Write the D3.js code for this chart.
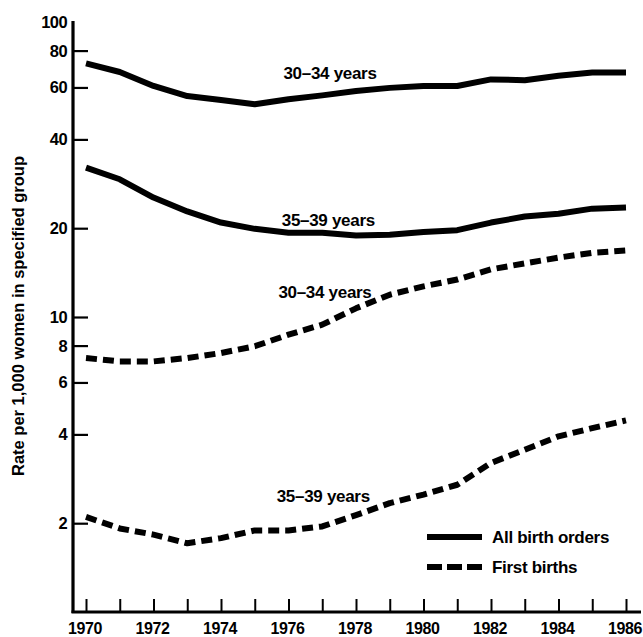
<!DOCTYPE html>
<html>
<head>
<meta charset="utf-8">
<script src="https://cdn.jsdelivr.net/npm/d3@7"></script>
<style>
  body { margin: 0; background: #fff; }
  svg text { font-family: "Liberation Sans", Arial, sans-serif; font-weight: bold; fill: #000; }
</style>
</head>
<body>
<div id="chart"></div>
<script>
// years on the x axis
const years = d3.range(1970, 1987);
const yearLabels = [1970, 1972, 1974, 1976, 1978, 1980, 1982, 1984, 1986];
const rateTicks = [2, 4, 6, 8, 10, 20, 40, 60, 80, 100];

// rates per 1,000 women
const all3034 = [72.4, 67.7, 60.7, 56.1, 54.4, 52.6, 54.7, 56.4, 58.4, 59.8, 60.7, 60.7, 63.9, 63.5, 65.7, 67.4, 67.4];
const all3539 = [32.1, 29.3, 25.4, 22.8, 20.9, 19.9, 19.3, 19.3, 18.9, 19.0, 19.4, 19.7, 20.9, 21.9, 22.4, 23.3, 23.5];
const first3034 = [7.26, 7.07, 7.07, 7.26, 7.55, 7.96, 8.71, 9.42, 10.7, 11.9, 12.7, 13.4, 14.5, 15.2, 15.9, 16.5, 16.8];
const first3539 = [2.10, 1.92, 1.83, 1.71, 1.78, 1.89, 1.89, 1.95, 2.13, 2.34, 2.50, 2.70, 3.20, 3.55, 3.94, 4.20, 4.46];

const seriesNames = ["30\u201334 years", "35\u201339 years", "30\u201334 years", "35\u201339 years"];
const legendNames = ["All birth orders", "First births"];

document.addEventListener("DOMContentLoaded", function () {
    const width = 643, height = 637;
    const svg = d3.select("#chart").append("svg")
        .attr("width", width)
        .attr("height", height);

    const x = d3.scaleLinear().domain([1970, 1986]).range([86, 626]);
    const y = d3.scaleLog().domain([1, 100]).range([612, 22]);

    // y ticks point inward, no tick at 100
    const yAxis = svg.append("g").attr("transform", "translate(73,0)")
        .call(d3.axisRight(y).tickValues(rateTicks.filter(d => d < 100)).tickSize(15).tickFormat(""));
    yAxis.select(".domain").remove();
    yAxis.selectAll(".tick line").attr("stroke", "#000").attr("stroke-width", 2.2);

    svg.append("line")
        .attr("x1", 73).attr("x2", 73)
        .attr("y1", y(100) - 1).attr("y2", 613)
        .attr("stroke", "#000").attr("stroke-width", 3.2);

    svg.append("line")
        .attr("x1", 71.5).attr("x2", 641)
        .attr("y1", 612).attr("y2", 612)
        .attr("stroke", "#000").attr("stroke-width", 3.2);

    const xAxis = svg.append("g").attr("transform", "translate(0,612)")
        .call(d3.axisTop(x).tickValues(years).tickSize(13).tickFormat(""));
    xAxis.select(".domain").remove();
    xAxis.selectAll(".tick line").attr("stroke", "#000").attr("stroke-width", 2);

    // tick labels
    svg.selectAll(".ylab").data(rateTicks).join("text")
        .attr("class", "ylab")
        .attr("x", 67)
        .attr("y", d => y(d))
        .attr("dy", "0.36em")
        .attr("text-anchor", "end")
        .attr("font-size", 16.5)
        .attr("letter-spacing", -0.6)
        .text(d => d);

    svg.selectAll(".xlab").data(yearLabels).join("text")
        .attr("class", "xlab")
        .attr("x", d => x(d) - 1)
        .attr("y", 634)
        .attr("text-anchor", "middle")
        .attr("font-size", 16)
        .attr("letter-spacing", -0.4)
        .text(d => d);

    svg.append("text")
        .attr("transform", "translate(24,316) rotate(-90)")
        .attr("text-anchor", "middle")
        .attr("font-size", 16.5)
        .text("Rate per 1,000 women in specified group");

    // lines (plain polylines, like the drawn original)
    const line = d3.line()
        .x((d, i) => x(years[i]))
        .y(d => y(d));

    const series = [
        { values: all3034, dash: null },
        { values: all3539, dash: null },
        { values: first3034, dash: "11,6" },
        { values: first3539, dash: "11,6" }
    ];

    svg.selectAll(".series").data(series).join("path")
        .attr("class", "series")
        .attr("d", d => line(d.values))
        .attr("fill", "none")
        .attr("stroke", "#000")
        .attr("stroke-width", 6)
        .attr("stroke-linejoin", "round")
        .attr("stroke-dasharray", d => d.dash);

    // series labels
    const labelPos = [
        { year: 1975.85, v: 64 },
        { year: 1975.8, v: 20.4 },
        { year: 1975.7, v: 11.6 },
        { year: 1975.65, v: 2.36 }
    ];
    svg.selectAll(".slab").data(labelPos).join("text")
        .attr("class", "slab")
        .attr("x", d => x(d.year))
        .attr("y", d => y(d.v))
        .attr("font-size", 17)
        .attr("letter-spacing", -0.3)
        .text((d, i) => seriesNames[i]);

    // legend
    const legend = svg.append("g");
    legendNames.forEach((name, i) => {
        const ly = 537 + i * 30;
        legend.append("line")
            .attr("x1", 427).attr("x2", 482)
            .attr("y1", ly).attr("y2", ly)
            .attr("stroke", "#000").attr("stroke-width", 6)
            .attr("stroke-dasharray", i === 1 ? "15,5" : null);
        legend.append("text")
            .attr("x", 492).attr("y", ly)
            .attr("dy", "0.36em")
            .attr("font-size", 17)
            .attr("letter-spacing", -0.3)
            .text(name);
    });
});
</script>
</body>
</html>
